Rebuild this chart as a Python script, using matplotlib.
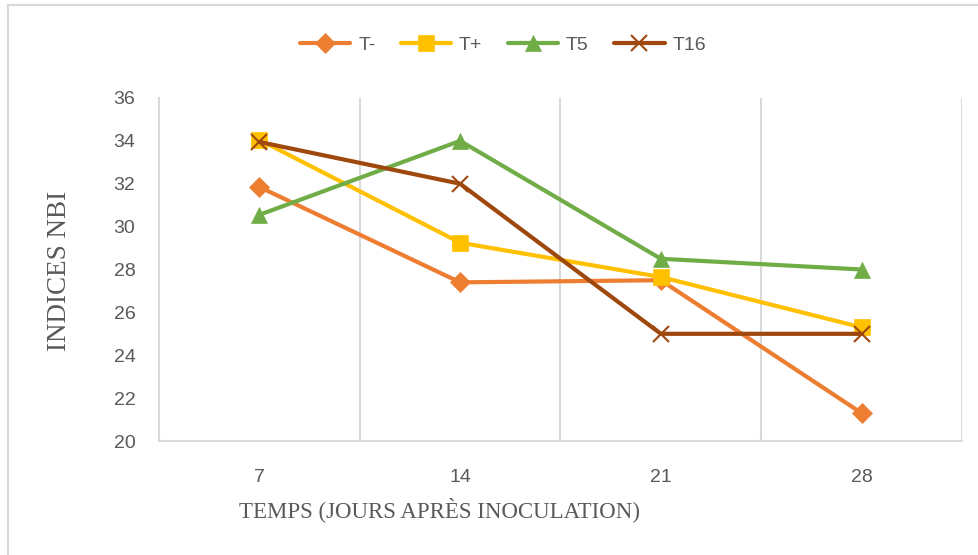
import matplotlib.pyplot as plt
from matplotlib.lines import Line2D
from matplotlib.patches import Rectangle
from matplotlib import font_manager

days = ['7', '14', '21', '28']
t_moins = [31.85, 27.4, 27.5, 21.3]
t_plus = [34.05, 29.25, 27.65, 25.3]
t5 = [30.55, 34.0, 28.5, 28.0]
t16 = [33.95, 32.0, 25.0, 25.0]
y_ticks = [20, 22, 24, 26, 28, 30, 32, 34, 36]

names = {f.name for f in font_manager.fontManager.ttflist}
sans = 'Liberation Sans' if 'Liberation Sans' in names else 'DejaVu Sans'
serif = 'Liberation Serif' if 'Liberation Serif' in names else 'DejaVu Serif'
grey_txt = '#595959'
grid_col = '#D9D9D9'

fig = plt.figure(figsize=(9.79, 5.55), dpi=100)
ax = fig.add_axes([159 / 979, 1 - 441 / 555, (962 - 159) / 979, (441 - 98) / 555])

x = range(len(days))
series = [
    ('T-', t_moins, '#ED7D31', 'D', 10),
    ('T+', t_plus, '#FFC000', 's', 11),
    ('T5', t5, '#70AD47', '^', 12),
    ('T16', t16, '#9E480E', 'x', 11),
]
handles = []
for name, vals, col, mk, ms in series:
    kw = dict(color=col, lw=3.0, marker=mk, markersize=ms, markerfacecolor=col,
              markeredgecolor=col, markeredgewidth=1.5 if mk == 'x' else 0.5,
              solid_joinstyle='round', solid_capstyle='round')
    ax.plot(list(x), vals, **kw, zorder=3)
    handles.append(Line2D([0], [0], label=name, **kw))

ax.set_xlim(-0.5, 3.5)
ax.set_ylim(20, 36)
ax.set_yticks(y_ticks)
ax.set_xticks(list(x))
ax.set_xticklabels(days)
for v in [0.5, 1.5, 2.5, 3.5]:
    ax.axvline(v, color=grid_col, lw=1.5, zorder=1)

for s in ['top', 'right']:
    ax.spines[s].set_visible(False)
for s in ['left', 'bottom']:
    ax.spines[s].set_color(grid_col)
    ax.spines[s].set_linewidth(1.5)

ax.tick_params(axis='both', length=0, labelcolor=grey_txt, labelsize=14)
ax.tick_params(axis='y', pad=17)
ax.tick_params(axis='x', pad=20)
for lab in ax.get_xticklabels() + ax.get_yticklabels():
    lab.set_fontfamily(sans)

fig.text(60 / 979, 1 - 271 / 555, 'INDICES NBI', rotation=90, ha='center', va='center',
         fontsize=19.5, family=serif, color=grey_txt)
fig.text(440 / 979, 1 - 510 / 555, 'TEMPS (JOURS APRÈS INOCULATION)', ha='center', va='center',
         fontsize=16.5, family=serif, color=grey_txt)

leg = fig.legend(handles=handles, loc='center', bbox_to_anchor=(503 / 979, 1 - 45 / 555), ncol=4,
                 frameon=False, handlelength=2.6, columnspacing=1.3, handletextpad=0.4,
                 prop={'family': sans, 'size': 14})
for t in leg.get_texts():
    t.set_color(grey_txt)

fig.patches.append(Rectangle((8 / 979, -0.05), 1.1, 1 - 5 / 555 + 0.05, transform=fig.transFigure,
                             fill=False, edgecolor=grid_col, lw=1.5))

fig.savefig('out.png', dpi=100)
